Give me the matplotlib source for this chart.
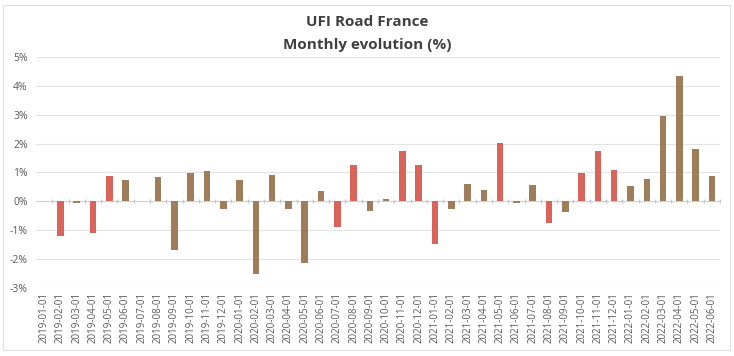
import matplotlib.pyplot as plt
import matplotlib.patches as mpatches
import numpy as np

# monthly evolution of the UFI road index for France, in %
months = ["2019-01-01", "2019-02-01", "2019-03-01", "2019-04-01", "2019-05-01", "2019-06-01",
          "2019-07-01", "2019-08-01", "2019-09-01", "2019-10-01", "2019-11-01", "2019-12-01",
          "2020-01-01", "2020-02-01", "2020-03-01", "2020-04-01", "2020-05-01", "2020-06-01",
          "2020-07-01", "2020-08-01", "2020-09-01", "2020-10-01", "2020-11-01", "2020-12-01",
          "2021-01-01", "2021-02-01", "2021-03-01", "2021-04-01", "2021-05-01", "2021-06-01",
          "2021-07-01", "2021-08-01", "2021-09-01", "2021-10-01", "2021-11-01", "2021-12-01",
          "2022-01-01", "2022-02-01", "2022-03-01", "2022-04-01", "2022-05-01", "2022-06-01"]
evolution = [0.0, -1.2, -0.05, -1.1, 0.87, 0.75,
             0.0, 0.85, -1.7, 0.98, 1.06, -0.25,
             0.75, -2.5, 0.9, -0.27, -2.12, 0.37,
             -0.9, 1.27, -0.35, 0.08, 1.74, 1.25,
             -1.47, -0.26, 0.6, 0.4, 2.03, -0.05,
             0.57, -0.75, -0.37, 0.97, 1.73, 1.1,
             0.53, 0.78, 2.95, 4.34, 1.82, 0.87]

# bar colours (r = red, b = brown) as they appear in the original
RED = "#d9645a"
BROWN = "#a07d5a"
color_codes = "rrbrrb" "bbbbbb" "bbbbbb" "rrbbrr" "rbbbrb" "brbrrr" "bbbbbb"
colors = [RED if c == "r" else BROWN for c in color_codes]

plt.rcParams['font.family'] = ['Open Sans', 'DejaVu Sans']

fig = plt.figure(figsize=(7.34, 3.56), dpi=100)
ax = fig.add_axes([0.049, 0.191, 0.932, 0.649])

x = np.arange(len(months))
ax.bar(x, evolution, width=0.4, color=colors, zorder=3)

ax.set_xlim(-0.5, len(months) - 0.5)
ax.set_ylim(-3, 5)
ax.set_yticks(range(-3, 6))
ax.set_yticklabels([f"{v}%" for v in range(-3, 6)])
ax.grid(axis="y", color="#e3e3e3", linewidth=0.8, zorder=0)
ax.set_xticks(x)
ax.set_xticklabels(months, rotation=90)

# category axis sitting on the zero line, with small ticks between months
ax.axhline(0, color="#d0d0d0", linewidth=0.8, zorder=2)
ax.plot(x + 0.5, np.zeros(len(x)), linestyle="none", marker="|", markersize=3,
        color="#c8c8c8", zorder=2)

for s in ax.spines.values():
    s.set_visible(False)
ax.tick_params(axis="y", length=0, labelsize=7.5, colors="#595959", pad=6)
ax.tick_params(axis="x", length=0, labelsize=7, colors="#595959", pad=3)

fig.text(0.5, 0.938, "UFI Road France", ha="center", va="center",
         fontsize=11, fontweight="bold", color="#404040")
fig.text(0.5, 0.873, "Monthly evolution (%)", ha="center", va="center",
         fontsize=11, fontweight="bold", color="#404040")

# light frame around the whole chart
fig.patches.append(mpatches.Rectangle((0.004, 0.017), 0.99, 0.968, transform=fig.transFigure,
                                      fill=False, edgecolor="#e0e0e0", linewidth=0.8))

fig.savefig("out.png", dpi=100)
